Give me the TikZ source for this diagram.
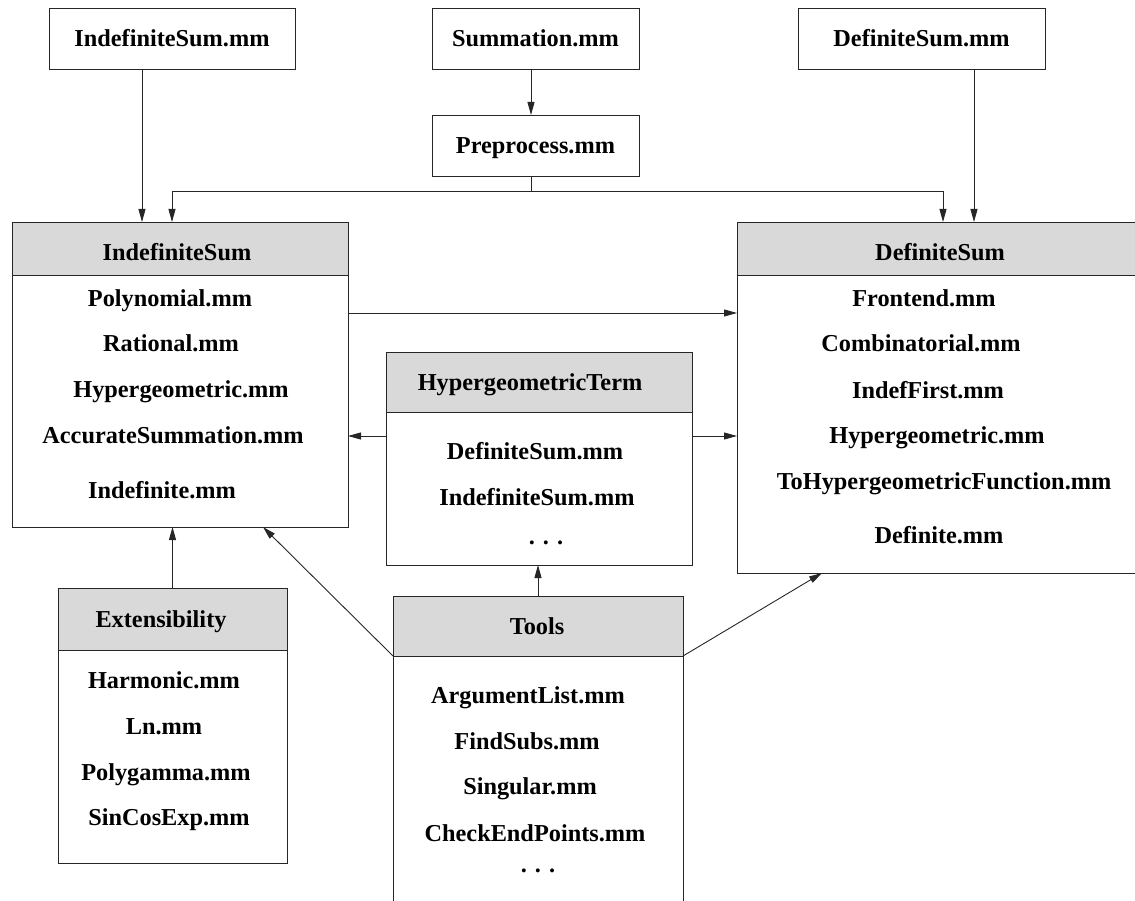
\documentclass[tikz,border=0pt]{standalone}
\usepackage{fontspec}
\setmainfont{Liberation Serif}
\usetikzlibrary{arrows.meta}
\begin{document}
\begin{tikzpicture}[x=1pt,y=-1pt,
  box/.style={draw=black!85,line width=0.9pt,inner sep=0pt,outer sep=0pt,rectangle},
  hdr/.style={box,fill=black!15},
  lbl/.style={font=\fontsize{24.3}{29}\selectfont\bfseries,inner sep=0pt,text height=16.5pt,text depth=0pt},
  dots/.style={font=\fontsize{24.3}{29}\selectfont\bfseries,inner sep=0pt,anchor=base},
  arr/.style={draw=black!85,line width=0.9pt,-{Triangle[length=13pt,width=7pt]}},
  ]
\useasboundingbox (0,0) rectangle (1135,901);
\clip (0,0) rectangle (1135,901);

% top file boxes
\node[box,lbl,minimum width=246pt,minimum height=61pt] (ISmm) at (172,38.5) {IndefiniteSum.mm};
\node[box,lbl,minimum width=207pt,minimum height=61pt] (Summ) at (535.5,38.5) {Summation.mm};
\node[box,lbl,minimum width=207pt,minimum height=61pt] (Prep) at (535.5,145.5) {Preprocess.mm};
\node[box,lbl,minimum width=247pt,minimum height=61pt] (DSmm) at (921.5,38.5) {DefiniteSum.mm};

% IndefiniteSum package
\node[hdr,minimum width=336pt,minimum height=53pt] (ISh) at (180,248.5) {};
\node[box,minimum width=336pt,minimum height=252pt] (ISb) at (180,401) {};
\node[lbl] (ISt) at (177,252) {IndefiniteSum};
\node[lbl] (IS1) at (170,298) {Polynomial.mm};
\node[lbl] (IS2) at (171,343) {Rational.mm};
\node[lbl] (IS3) at (181,389) {Hypergeometric.mm};
\node[lbl] (IS4) at (173,435) {AccurateSummation.mm};
\node[lbl] (IS5) at (162,490) {Indefinite.mm};

% DefiniteSum package
\node[hdr,minimum width=403pt,minimum height=53pt] (DSh) at (938.5,248.5) {};
\node[box,minimum width=403pt,minimum height=298pt] (DSb) at (938.5,424) {};
\node[lbl] (DSt) at (940,252) {DefiniteSum};
\node[lbl] (DS1) at (924,298) {Frontend.mm};
\node[lbl] (DS2) at (921,343) {Combinatorial.mm};
\node[lbl] (DS3) at (928,390) {IndefFirst.mm};
\node[lbl] (DS4) at (937,435) {Hypergeometric.mm};
\node[lbl] (DS5) at (944,481) {ToHypergeometricFunction.mm};
\node[lbl] (DS6) at (939,535) {Definite.mm};

% HypergeometricTerm package
\node[hdr,minimum width=306pt,minimum height=60pt] (HTh) at (539,382) {};
\node[box,minimum width=306pt,minimum height=153pt] (HTb) at (539,488.5) {};
\node[lbl] (HTt) at (530,382) {HypergeometricTerm};
\node[lbl] (HT1) at (535,451) {DefiniteSum.mm};
\node[lbl] (HT2) at (537,497) {IndefiniteSum.mm};
\node[dots] (HT3) at (546,544) {. . .};

% Extensibility package
\node[hdr,minimum width=229pt,minimum height=62pt] (Exh) at (172.5,619) {};
\node[box,minimum width=229pt,minimum height=213pt] (Exb) at (172.5,756.5) {};
\node[lbl] (Ext) at (161,619) {Extensibility};
\node[lbl] (Ex1) at (164,680) {Harmonic.mm};
\node[lbl] (Ex2) at (164,726) {Ln.mm};
\node[lbl] (Ex3) at (166,772) {Polygamma.mm};
\node[lbl] (Ex4) at (169,817) {SinCosExp.mm};

% Tools package
\node[hdr,minimum width=290pt,minimum height=60pt] (Toh) at (538,626) {};
\node[box,minimum width=290pt,minimum height=254pt] (Tob) at (538,783) {};
\node[lbl] (Tot) at (537,626) {Tools};
\node[lbl] (To1) at (528,695) {ArgumentList.mm};
\node[lbl] (To2) at (527,741) {FindSubs.mm};
\node[lbl] (To3) at (530,786) {Singular.mm};
\node[lbl] (To4) at (535,833) {CheckEndPoints.mm};
\node[dots] (To5) at (538,872) {. . .};

% connectors
\draw[arr] ([xshift=-30pt]ISmm.south) -- ([xshift=-30pt]ISmm.south |- ISh.north);
\draw[arr] ([xshift=-4.5pt]Summ.south) -- ([xshift=-4.5pt]Prep.north);
\draw[arr] ([xshift=-4.5pt]Prep.south) -- ++(0,15) -| ([xshift=-8pt]ISh.north);
\draw[arr] ([xshift=-4.5pt]Prep.south) -- ++(0,15) -| ([xshift=4.5pt]DSh.north);
\draw[arr] ([xshift=52.5pt]DSmm.south) -- ([xshift=52.5pt]DSmm.south |- DSh.north);
\draw[arr] ([yshift=88pt]ISb.east) -- ([yshift=88pt]ISb.east -| DSb.west);
\draw[arr] ([yshift=52.5pt]HTb.west) -- ([yshift=52.5pt]HTb.west -| ISb.east);
\draw[arr] ([yshift=52.5pt]HTb.east) -- ([yshift=52.5pt]HTb.east -| DSb.west);
\draw[arr] (Exh.north) -- (Exh.north |- ISb.south);
\draw[arr] (Toh.north) -- (Toh.north |- HTb.south);
\draw[arr] (Toh.south west) -- ([xshift=83pt]ISb.south);
\draw[arr] (Toh.south east) -- ([xshift=-116.5pt]DSb.south);
\end{tikzpicture}
\end{document}
